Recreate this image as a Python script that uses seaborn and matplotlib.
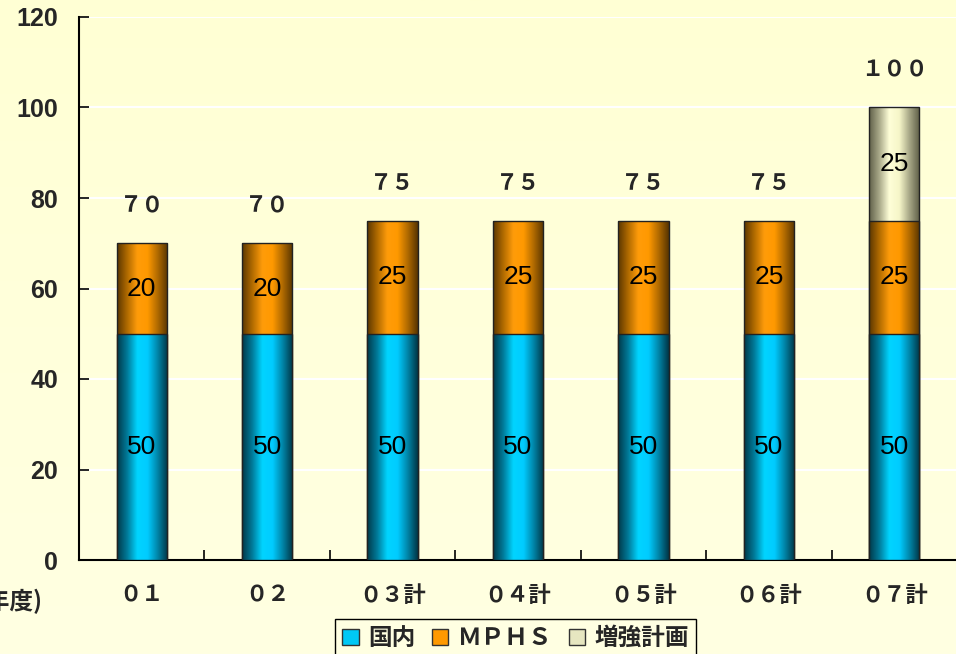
import numpy as np
import matplotlib
matplotlib.use("Agg")
import matplotlib.pyplot as plt
from matplotlib.colors import LinearSegmentedColormap
from matplotlib.patches import Patch
import seaborn as sns

# ---- data ----
categories = ["０１", "０２", "０３計", "０４計", "０５計", "０６計", "０７計"]
domestic = [50, 50, 50, 50, 50, 50, 50]
mphs = [20, 20, 25, 25, 25, 25, 25]
plan = [0, 0, 0, 0, 0, 0, 25]
series_names = ["国内", "ＭＰＨＳ", "増強計画"]
yticks = [0, 20, 40, 60, 80, 100, 120]

sns.set_style("white")
plt.rcParams['font.family'] = ['Liberation Sans', 'Noto Sans CJK JP', 'DejaVu Sans']

BG = "#FFFFDC"
fig = plt.figure(figsize=(9.56, 6.54), dpi=100, facecolor=BG)
# subtle vertical background gradient (more yellow at top)
bg = fig.add_axes([0, 0, 1, 1], zorder=-10)
bg.imshow(np.linspace(0, 1, 256).reshape(-1, 1), aspect="auto", extent=[0, 1, 0, 1],
          cmap=LinearSegmentedColormap.from_list("bg", ["#FFFFE2", "#FFFFD4"]), origin="lower")
bg.axis("off")

ax = fig.add_axes([79 / 956, 94 / 654, 878 / 956, 543 / 654])
ax.set_facecolor("none")

cmaps = [
    LinearSegmentedColormap.from_list("c", ["#003848", "#007a99", "#00d4ff", "#00ccff", "#0085a8", "#003545"]),
    LinearSegmentedColormap.from_list("o", ["#5a3600", "#b06a00", "#ff9c0a", "#ff9900", "#b06a00", "#573400"]),
    LinearSegmentedColormap.from_list("b", ["#5f5f48", "#a8a888", "#ffffd8", "#f5f5c8", "#a5a585", "#5c5c45"]),
]
mid_colors = ["#00c8f5", "#ff9900", "#e6e6c0"]

dom = np.array(domestic)
mp = np.array(mphs)
pl = np.array(plan)
cum = [dom, dom + mp, dom + mp + pl]
segvals = [dom, mp, pl]

grad = np.linspace(0, 1, 256).reshape(1, -1)
for layer in [2, 1, 0]:
    z = 3 - layer
    n_before = len(ax.patches)
    sns.barplot(x=categories, y=cum[layer], color=mid_colors[layer], width=0.4,
                ax=ax, zorder=z, edgecolor="#222222", linewidth=1.0, saturation=1)
    new = ax.patches[n_before:]
    for p, v in zip(new, segvals[layer]):
        if v <= 0:
            p.set_visible(False)
            continue
        x0, y0, w, h = p.get_x(), p.get_y(), p.get_width(), p.get_height()
        im = ax.imshow(grad, extent=[x0, x0 + w, y0, y0 + h], aspect="auto",
                       cmap=cmaps[layer], zorder=z - 0.05, interpolation="bicubic")
        im.set_clip_path(p)
        p.set_facecolor("none")

# segment labels
for i in range(len(categories)):
    base = 0
    for vals in segvals:
        v = vals[i]
        if v > 0:
            ax.text(i, base + v / 2, str(v), ha="center", va="center", fontsize=19,
                    color="black", zorder=10, family="Liberation Sans")
        base += v

# totals (full-width digits)
fw = str.maketrans("0123456789", "０１２３４５６７８９")
totals = cum[2]
for i, t in enumerate(totals):
    ax.annotate(str(int(t)).translate(fw), (i, t), xytext=(0, 27), textcoords="offset points",
                ha="center", va="center", fontsize=16, fontweight="bold",
                family=["Noto Sans CJK JP"], zorder=10)

ax.set_xlim(-0.5, 6.5)
ax.set_ylim(0, 120)
ax.set_yticks(yticks)
ax.set_yticklabels([str(t) for t in yticks], fontsize=18, fontweight="bold",
                   family="Liberation Sans")
ax.yaxis.grid(True, color="white", linewidth=1.5, zorder=0)
ax.set_axisbelow(True)
ax.tick_params(axis="y", direction="in", length=7, width=1.2, pad=15, color="black", left=True)
ax.set_xticks(range(len(categories)))
ax.set_xticklabels(categories, fontsize=16, fontweight="bold", family=["Noto Sans CJK JP"])
ax.tick_params(axis="x", which="major", length=0, pad=17)
ax.set_xticks([i + 0.5 for i in range(6)], minor=True)
ax.tick_params(axis="x", which="minor", direction="in", length=7, width=1.2, color="black", bottom=True)
ax.set_xlabel("")
for s in ["top", "right"]:
    ax.spines[s].set_visible(False)
for s in ["left", "bottom"]:
    ax.spines[s].set_color("black")
    ax.spines[s].set_linewidth(1.5)

fig.text(42 / 956, 1 - 601 / 654, "(年度)", ha="right", va="center", fontsize=17,
         fontweight="bold", family=["Noto Sans CJK JP"])

handles = [Patch(facecolor=c, edgecolor="#333333", linewidth=1.0) for c in mid_colors]
leg = fig.legend(handles, series_names, loc="upper left",
                 bbox_to_anchor=(335 / 956, 1 - 619 / 654), bbox_transform=fig.transFigure,
                 ncol=3, frameon=True, fancybox=False, edgecolor="black", facecolor="#FFFFE2",
                 framealpha=1, borderaxespad=0, handlelength=0.7, handleheight=0.7,
                 handletextpad=0.4, columnspacing=0.7, borderpad=0.3,
                 prop={"family": ["Noto Sans CJK JP"], "weight": "bold", "size": 17})

fig.savefig("out.png", dpi=100)
